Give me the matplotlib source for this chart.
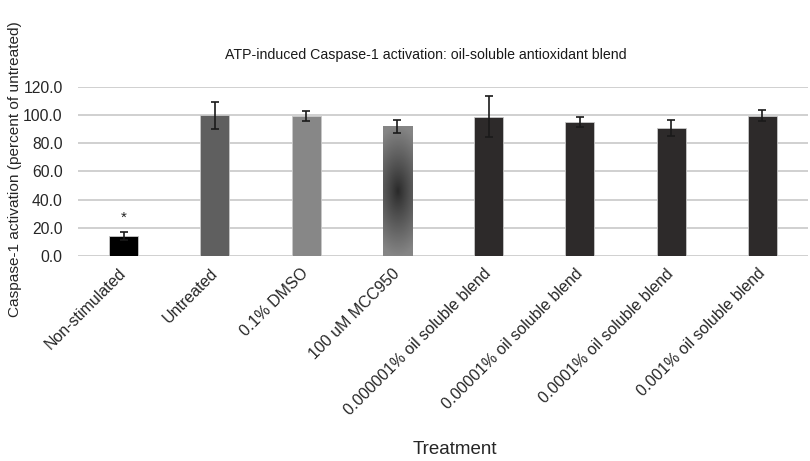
import numpy as np
import matplotlib
matplotlib.use("Agg")
import matplotlib.pyplot as plt

plt.rcParams['font.family'] = ['Liberation Sans', 'DejaVu Sans']

categories = ["Non-stimulated", "Untreated", "0.1% DMSO", "100 uM MCC950",
              "0.000001% oil soluble blend", "0.00001% oil soluble blend",
              "0.0001% oil soluble blend", "0.001% oil soluble blend"]
values = [14.0, 100.0, 99.5, 92.0, 99.0, 95.0, 91.0, 99.7]
errors = [2.8, 9.5, 3.5, 4.5, 14.8, 3.4, 5.7, 4.0]
colors = ["#000000", "#5f5f5f", "#878787", "#6e6e6e",
          "#2d2a2a", "#2d2a2a", "#2d2a2a", "#2d2a2a"]
yticks = [0, 20, 40, 60, 80, 100, 120]

fig = plt.figure(figsize=(8.1, 4.61), dpi=100)
ax = fig.add_axes([0.0963, 0.4447, 0.9012, 0.3666])

x = np.arange(len(categories))
bars = ax.bar(x, values, width=0.32, color=colors, edgecolor="#c8c8c8",
              linewidth=0.6, zorder=2)
ax.errorbar(x, values, yerr=errors, fmt='none', ecolor="#1a1a1a",
            elinewidth=1.2, capsize=3, capthick=1.2, zorder=3)

# gradient fill for MCC950 bar
b = bars[3]
bx0, bw, bh = b.get_x(), b.get_width(), b.get_height()
ny, nx = 200, 60
yy, xx = np.mgrid[-1:1:ny*1j, -1:1:nx*1j]
d = np.clip(np.sqrt((0.5 * xx) ** 2 + yy ** 2), 0, 1)
dark, light = 0.16, 0.52
img = dark + (light - dark) * d ** 0.9
im = ax.imshow(img, cmap='gray', vmin=0, vmax=1, aspect='auto',
               extent=[bx0, bx0 + bw, 0, bh], zorder=2.5, interpolation='bilinear')
im.set_clip_path(b)

ax.text(0, 27, "*", ha='center', va='center', fontsize=11, color="#222222")

ax.set_xlim(-0.5, len(categories) - 0.5)
ax.set_ylim(0, 120)
ax.set_yticks(yticks)
ax.set_yticklabels([f"{v:.1f}" for v in yticks], fontsize=11.3, color="#262626")
ax.yaxis.grid(True, color="#d0d0d0", linewidth=1.4, zorder=0)
ax.set_axisbelow(True)
for s in ax.spines.values():
    s.set_visible(False)
ax.tick_params(axis='both', length=0)
ax.tick_params(axis='y', pad=11)
ax.set_xticks(x)
ax.set_xticklabels(categories, rotation=45, ha='right', va='center',
                   rotation_mode='anchor', fontsize=11.5, color="#262626")
ax.tick_params(axis='x', pad=11)

ax.set_title("ATP-induced Caspase-1 activation: oil-soluble antioxidant blend",
             fontsize=10.2, color="#1a1a1a", pad=20, x=0.477)
fig.text(0.019, 0.634, "Caspase-1 activation (percent of untreated)",
         rotation=90, ha='center', va='center', fontsize=11.1, color="#262626")
fig.text(0.562, 0.026, "Treatment", ha='center', va='center', fontsize=13.5,
         color="#262626")

fig.savefig("out.png", dpi=100)
